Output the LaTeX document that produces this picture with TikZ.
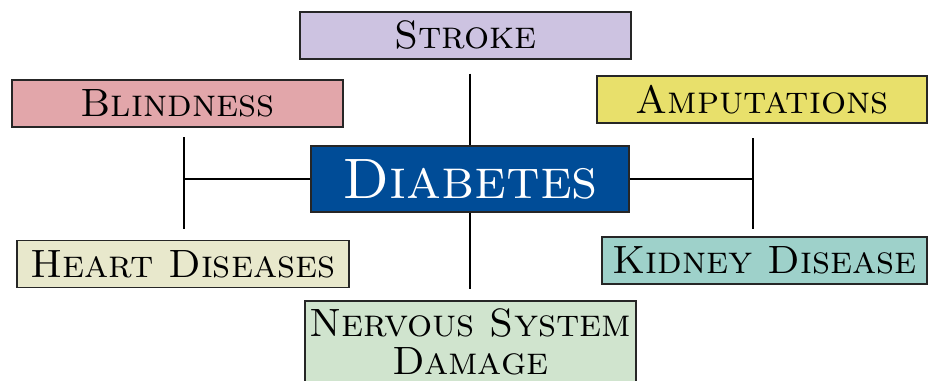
\documentclass[tikz,border=0pt]{standalone}
\usepackage{xcolor}
\usepackage{tikz}
\usetikzlibrary{calc}
\definecolor{StrokeLilac}{HTML}{CDC3E1}
\definecolor{BlindRose}{HTML}{E2A6AA}
\definecolor{AmputYellow}{HTML}{E8E06B}
\definecolor{DiabBlue}{HTML}{004C97}
\definecolor{HeartCream}{HTML}{E8E8CC}
\definecolor{KidneyTeal}{HTML}{9ED1CA}
\definecolor{NerveGreen}{HTML}{D0E4CE}

\begin{document}
\begin{tikzpicture}[
	x=1pt, y=-1pt,
	box/.style={draw=black!85, line width=1.4pt, inner sep=0pt, align=center,
		minimum width=331pt, minimum height=47pt,
		font=\fontsize{39.5}{38}\selectfont\scshape},
	link/.style={line width=2.4pt}
]
\clip (0,0) rectangle (928,380);

\node[box, fill=StrokeLilac] (stroke) at (465.5,35.5) {Stroke};
\node[box, fill=BlindRose] (blind) at (177.5,103.5) {Blindness};
\node[box, fill=AmputYellow, minimum width=330pt] (amput) at (762,99.5) {Amputations};
\node[box, fill=DiabBlue, text=white, minimum width=318pt, minimum height=66pt,
	font=\fontsize{57}{60}\selectfont\scshape] (diab) at (470,179) {Diabetes};
\node[box, fill=HeartCream, minimum width=332pt] (heart) at (183,264) {Heart Diseases};
\node[box, fill=KidneyTeal, minimum width=325pt] (kidney) at (764.5,260.5) {Kidney Disease};
\node[box, fill=NerveGreen, minimum height=81pt] (nerve) at (470.5,341.5) {Nervous System\\Damage};

% junction points of the side branches
\coordinate (ltop) at (184,137);
\coordinate (lbot) at (184,229);
\coordinate (rtop) at (753,138);
\coordinate (rbot) at (753,229);

\draw[link, shorten <=14pt] (stroke.south -| diab.north) -- (diab.north);
\draw[link, shorten >=11pt] (diab.south) -- (diab.south |- nerve.north);
\draw[link] (ltop) -- (lbot);
\draw[link] (diab.west) -- (diab.west -| ltop);
\draw[link] (rtop) -- (rbot);
\draw[link] (diab.east) -- (diab.east -| rtop);
\end{tikzpicture}
\end{document}
